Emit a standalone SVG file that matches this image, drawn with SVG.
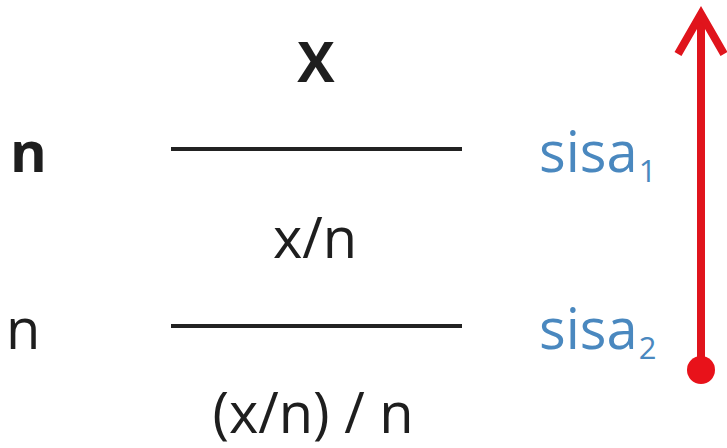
<svg xmlns="http://www.w3.org/2000/svg" width="727" height="448" viewBox="0 0 727 448">
<style>
.t{font-family:"Open Sans","Liberation Sans",sans-serif;font-size:56px;fill:#1e1e1e}
.b{font-weight:bold}
.s{fill:#4a88bf}
.sub{font-size:31px}
.ln{stroke:#222;stroke-width:4}
</style>
<rect width="727" height="448" fill="#fff"/>
<g id="top-x"><text class="t b" x="316" y="82" text-anchor="middle" font-size="60">X</text></g>
<g id="row1">
<text class="t b" x="10" y="172" font-size="60">n</text>
<line class="ln" x1="171" y1="149" x2="462" y2="149"/>
<text class="t s" x="539" y="172">sisa<tspan class="sub" dx="1" dy="10">1</tspan></text>
</g>
<g id="mid"><text class="t" x="315" y="258" text-anchor="middle">x/n</text></g>
<g id="row2">
<text class="t" x="6" y="349">n</text>
<line class="ln" x1="171" y1="326" x2="462" y2="326"/>
<text class="t s" x="539" y="349">sisa<tspan class="sub" dx="1" dy="10">2</tspan></text>
</g>
<g id="bottom"><text class="t" x="313" y="433" text-anchor="middle" font-size="58">(x/n) / n</text></g>
<g id="connectors">
<line x1="701" y1="368" x2="701" y2="14" stroke="#e0141c" stroke-width="8"/>
<polyline points="678,54 701,14 724,54" fill="none" stroke="#e0141c" stroke-width="8" stroke-linejoin="miter"/>
<circle cx="701" cy="370" r="14" fill="#e8121a"/>
</g>
</svg>
